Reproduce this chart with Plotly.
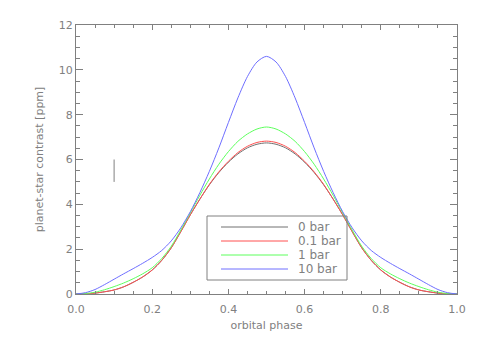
import plotly.graph_objects as go

phase = [0.0, 0.025, 0.05, 0.075, 0.1, 0.125, 0.15, 0.175, 0.2, 0.225, 0.25,
         0.275, 0.3, 0.325, 0.35, 0.375, 0.4, 0.425, 0.45, 0.475, 0.5,
         0.525, 0.55, 0.575, 0.6, 0.625, 0.65, 0.675, 0.7, 0.725, 0.75,
         0.775, 0.8, 0.825, 0.85, 0.875, 0.9, 0.925, 0.95, 0.975, 1.0]
c_0bar = [0.0, 0.01, 0.04, 0.10, 0.18, 0.32, 0.52, 0.76, 1.07, 1.50, 2.06,
          2.78, 3.53, 4.23, 4.87, 5.42, 5.88, 6.25, 6.52, 6.68, 6.74,
          6.68, 6.52, 6.25, 5.88, 5.42, 4.87, 4.23, 3.53, 2.78, 2.06,
          1.50, 1.07, 0.76, 0.52, 0.32, 0.18, 0.10, 0.04, 0.01, 0.0]
c_01bar = [0.0, 0.01, 0.04, 0.10, 0.18, 0.32, 0.52, 0.76, 1.07, 1.50, 2.06,
           2.78, 3.53, 4.23, 4.89, 5.45, 5.92, 6.31, 6.59, 6.76, 6.82,
           6.76, 6.59, 6.31, 5.92, 5.45, 4.89, 4.23, 3.53, 2.78, 2.06,
           1.50, 1.07, 0.76, 0.52, 0.32, 0.18, 0.10, 0.04, 0.01, 0.0]
c_1bar = [0.0, 0.02, 0.08, 0.19, 0.33, 0.49, 0.68, 0.90, 1.17, 1.58, 2.13,
          2.85, 3.62, 4.40, 5.13, 5.79, 6.35, 6.81, 7.14, 7.36, 7.45,
          7.36, 7.14, 6.81, 6.35, 5.79, 5.13, 4.40, 3.62, 2.85, 2.13,
          1.58, 1.17, 0.90, 0.68, 0.49, 0.33, 0.19, 0.08, 0.02, 0.0]
c_10bar = [0.0, 0.06, 0.20, 0.42, 0.66, 0.90, 1.13, 1.37, 1.63, 1.94, 2.37,
           2.95, 3.67, 4.52, 5.47, 6.52, 7.65, 8.75, 9.70, 10.35, 10.60,
           10.35, 9.70, 8.75, 7.65, 6.52, 5.47, 4.52, 3.67, 2.95, 2.37,
           1.94, 1.63, 1.37, 1.13, 0.90, 0.66, 0.42, 0.20, 0.06, 0.0]

bar_x = [0.1, 0.1]
bar_y = [5.0, 6.0]

labels = ["0 bar", "0.1 bar", "1 bar", "10 bar"]
colors = ["#707070", "#ff5050", "#5cff5c", "#6e6eff"]
series = [c_0bar, c_01bar, c_1bar, c_10bar]

GRAY = "#808080"
FONT = "DejaVu Sans"

fig = go.Figure()
for lab, col, ys in zip(labels, colors, series):
    fig.add_trace(go.Scatter(x=phase, y=ys, mode="lines", name=lab,
                             line=dict(color=col, width=1, shape="spline", smoothing=0.8),
                             showlegend=False))
fig.add_trace(go.Scatter(x=bar_x, y=bar_y, mode="lines", line=dict(color=GRAY, width=1),
                         showlegend=False))

# page body has an 8px margin: figure is offset by (8, 8) inside the 479x342 window
OFF = 8
W, H = 479 - OFF, 342 - OFF
ml, mr, mt, mb = 76 - OFF, 22, 25 - OFF, 48
pw, ph = W - ml - mr, H - mt - mb


def px(x):
    return (x - OFF - ml) / pw


def py(y):
    return (H - mb - (y - OFF)) / ph


shapes = [dict(type="rect", xref="paper", yref="paper", x0=px(207), x1=px(347), y0=py(280), y1=py(216),
               line=dict(color=GRAY, width=1))]
annotations = []
for i, (lab, col) in enumerate(zip(labels, colors)):
    yy = 227 + 14 * i
    shapes.append(dict(type="line", xref="paper", yref="paper", x0=px(221), x1=px(288),
                       y0=py(yy), y1=py(yy), line=dict(color=col, width=1)))
    annotations.append(dict(xref="paper", yref="paper", x=px(296), y=py(yy), text=lab,
                            showarrow=False, xanchor="left", yanchor="middle",
                            font=dict(family=FONT, size=12, color=GRAY)))

axis_common = dict(showline=True, linecolor=GRAY, linewidth=1, mirror="allticks",
                   ticks="inside", tickcolor=GRAY, tickwidth=1, showgrid=False, zeroline=False,
                   tickfont=dict(family=FONT, size=11, color=GRAY))

fig.update_layout(
    width=W, height=H, margin=dict(l=ml, r=mr, t=mt, b=mb, autoexpand=False),
    paper_bgcolor="white", plot_bgcolor="white",
    xaxis=dict(range=[0, 1], dtick=0.2, tick0=0, tickformat=".1f", ticklen=5, ticklabelstandoff=5,
               minor=dict(dtick=0.05, ticks="inside", ticklen=3, tickcolor=GRAY, showgrid=False),
               title=dict(text="orbital phase", font=dict(family=FONT, size=11, color=GRAY), standoff=6),
               **axis_common),
    yaxis=dict(range=[0, 12], dtick=2, tick0=0, ticklen=7,
               minor=dict(dtick=0.5, ticks="inside", ticklen=4, tickcolor=GRAY, showgrid=False),
               title=dict(text="planet-star contrast [ppm]", font=dict(family=FONT, size=11, color=GRAY), standoff=12),
               **axis_common),
    shapes=shapes, annotations=annotations, showlegend=False,
)
fig.write_html("out.html")
